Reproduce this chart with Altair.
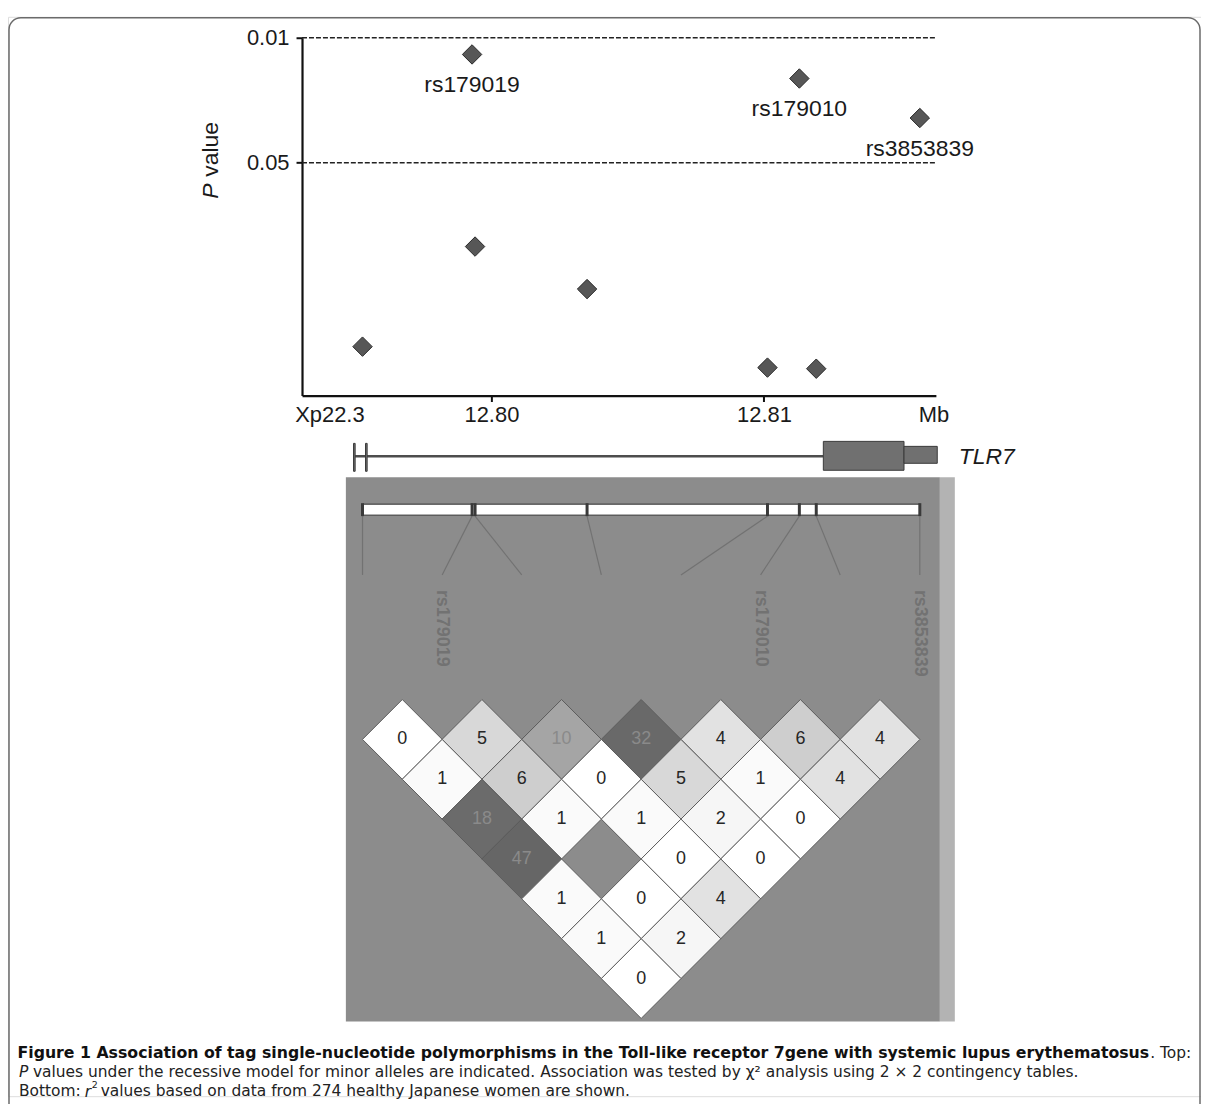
import altair as alt
import pandas as pd

# ------------------------------------------------------------------ data
snp_pos_mb = [12.79527, 12.79929, 12.79940, 12.80351, 12.81013, 12.81130, 12.81192, 12.81572]
snp_pvalue = [0.533, 0.0124, 0.147, 0.254, 0.698, 0.0169, 0.708, 0.0281]
snp_name = ["", "rs179019", "", "", "", "rs179010", "", "rs3853839"]

threshold_p = [0.01, 0.05]
x_tick_mb = [12.80, 12.81]
y_tick_p = [0.01, 0.05]
x_domain_mb = [12.79305, 12.81631]
p_domain = [0.01, 1]

exon_start_mb = [12.79494, 12.79538, 12.81218, 12.81514]
exon_end_mb = [12.79500, 12.79544, 12.81514, 12.81636]
exon_part = ["small", "small", "cds", "utr"]
gene_span_mb = [12.79494, 12.81218]
gene_name = "TLR7"

# r2 (x100) between SNP i and SNP i+d, one list per distance d = 1..7
r2_by_distance = [
    [0, 5, 10, 32, 4, 6, 4],
    [1, 6, 0, 5, 1, 4],
    [18, 1, 1, 2, 0],
    [47, None, 0, 0],
    [1, 0, 4],
    [1, 2],
    [0],
]
r2_color_stops = [0, 2, 4, 6, 10, 18, 47]
r2_colors = ["#ffffff", "#f6f6f6", "#e2e2e2", "#cecece", "#a5a5a5", "#6b6b6b", "#666666"]

caption_bold = ("Figure 1 Association of tag single-nucleotide polymorphisms in the "
                "Toll-like receptor 7gene with systemic lupus erythematosus")
caption_after_bold = ". Top:"
caption_l2 = ("values under the recessive model for minor alleles are indicated. "
              "Association was tested by \u03c7\u00b2 analysis using 2 \u00d7 2 contingency tables.")
caption_l3a = "Bottom:"
caption_l3b = "values based on data from 274 healthy Japanese women are shown."

# ------------------------------------------------------------------ layout
W, H = 1197, 1083
FONT = "Liberation Sans"
CAP = "DejaVu Sans"

xs = alt.Scale(domain=x_domain_mb, range=[295, 931], zero=False, nice=False)
ys = alt.Scale(type="log", domain=p_domain, range=[21, 380], nice=False)

one = pd.DataFrame({"a": [0]})

# ------------------------------------------------------------------ top panel
snps = pd.DataFrame({"mb": snp_pos_mb, "p": snp_pvalue, "name": snp_name})

x_axis = alt.Axis(values=x_tick_mb, format=".2f", offset=-(H - 380), title=None,
                  grid=False, tickSize=6, tickWidth=2, tickColor="#111",
                  domainColor="#111", domainWidth=2.2, labelFont=FONT,
                  labelFontSize=22, labelColor="#1a1a1a", labelPadding=3)
y_axis = alt.Axis(values=y_tick_p, format=".2f", offset=-295, title=None,
                  grid=False, tickSize=6, tickWidth=2, tickColor="#111",
                  domainColor="#111", domainWidth=2.2, labelFont=FONT,
                  labelFontSize=22, labelColor="#1a1a1a", labelPadding=7)

thr = pd.DataFrame({"p": threshold_p, "x0": x_domain_mb[0], "x1": x_domain_mb[1]})
rules = alt.Chart(thr).mark_rule(strokeDash=[5, 2], strokeWidth=1.6, color="#222").encode(
    x=alt.X("x0:Q", scale=xs, title=None), x2="x1:Q",
    y=alt.Y("p:Q", scale=ys, title=None))

pts = alt.Chart(snps).mark_point(shape="diamond", filled=True, size=380, opacity=1,
                                 color="#575757", stroke="#2a2a2a", strokeWidth=1).encode(
    x=alt.X("mb:Q", scale=xs, axis=x_axis),
    y=alt.Y("p:Q", scale=ys, axis=y_axis))

labs = alt.Chart(snps).mark_text(dy=31, fontSize=23, font=FONT, color="#1a1a1a").encode(
    x=alt.X("mb:Q", scale=xs, title=None),
    y=alt.Y("p:Q", scale=ys, title=None),
    text="name:N")

top = alt.layer(rules, pts, labs)

# ------------------------------------------------------------------ gene track
gene_df = pd.DataFrame({"s": [gene_span_mb[0]], "e": [gene_span_mb[1]]})
gene_line = alt.Chart(gene_df).mark_rule(strokeWidth=2.5, color="#4d4d4d").encode(
    x=alt.X("s:Q", scale=xs, axis=None), x2="e:Q", y=alt.value(441))

exons = pd.DataFrame({"s": exon_start_mb, "e": exon_end_mb, "part": exon_part})
exon_y = {"small": (428, 456), "cds": (426, 455), "utr": (431, 448)}
exon_layers = []
for part, (y0, y1) in exon_y.items():
    exon_layers.append(
        alt.Chart(exons).transform_filter(alt.datum.part == part)
        .mark_rect(color="#707070", stroke="#3a3a3a", strokeWidth=1)
        .encode(x=alt.X("s:Q", scale=xs, axis=None), x2="e:Q",
                y=alt.value(y0), y2=alt.value(y1)))

gene_label = alt.Chart(pd.DataFrame({"g": [gene_name]})).mark_text(
    align="left", baseline="middle", fontStyle="italic", fontSize=23, font=FONT,
    color="#1a1a1a").encode(text="g:N", x=alt.value(954), y=alt.value(442))

gene = alt.layer(gene_line, *exon_layers, gene_label)

# ------------------------------------------------------------------ LD plot
n = len(snp_pos_mb)
pos1, posn = snp_pos_mb[0], snp_pos_mb[-1]
step = (posn - pos1) / (n - 1)
col_mb = [pos1 + k * step for k in range(n)]

cells = []
for d, row in enumerate(r2_by_distance, start=1):
    for i, v in enumerate(row):
        cells.append({"cx": pos1 + (i + (i + d)) / 2 * step, "depth": d, "r2": v,
                      "txt": "" if v is None else str(v)})
cells_df = pd.DataFrame(cells)

ld_bg = alt.Chart(one).mark_rect(color="#8c8c8c").encode(
    x=alt.value(339), x2=alt.value(935), y=alt.value(462), y2=alt.value(1008))
ld_band = alt.Chart(one).mark_rect(color="#b3b3b3").encode(
    x=alt.value(935), x2=alt.value(950), y=alt.value(462), y2=alt.value(1008))

bar_df = pd.DataFrame({"s": [pos1], "e": [posn]})
bar = alt.Chart(bar_df).mark_rect(fill="white", stroke="#2d2d2d", strokeWidth=1).encode(
    x=alt.X("s:Q", scale=xs, axis=None), x2="e:Q", y=alt.value(489), y2=alt.value(500))

snp_cols = pd.DataFrame({"mb": snp_pos_mb, "col": col_mb, "name": snp_name})
bar_ticks = alt.Chart(snp_cols).mark_rule(strokeWidth=3, color="#3a3a3a").encode(
    x=alt.X("mb:Q", scale=xs, axis=None), y=alt.value(488), y2=alt.value(501))
connectors = alt.Chart(snp_cols).mark_rule(strokeWidth=1.2, color="#727272").encode(
    x=alt.X("mb:Q", scale=xs, axis=None), x2="col:Q", y=alt.value(501), y2=alt.value(560))
snp_names = alt.Chart(snp_cols).mark_text(angle=90, align="left", baseline="middle",
                                          fontSize=18, fontWeight="bold", font=FONT,
                                          color="#727272").encode(
    x=alt.X("col:Q", scale=xs, axis=None), y=alt.value(575), text="name:N")

depth_scale = alt.Scale(domain=[1, 7], range=[725, 965], zero=False, nice=False)
diamonds = alt.Chart(cells_df).mark_point(shape="diamond", filled=True, size=6400, opacity=1,
                                          stroke="#5c5c5c", strokeWidth=1).encode(
    x=alt.X("cx:Q", scale=xs, axis=None),
    y=alt.Y("depth:Q", scale=depth_scale, axis=None),
    color=alt.condition("datum.r2 === null", alt.value("#5a5a5a"),
                        alt.Color("r2:Q", scale=alt.Scale(domain=r2_color_stops, range=r2_colors),
                                  legend=None)))
cell_text = alt.Chart(cells_df).mark_text(fontSize=18, font=FONT).encode(
    x=alt.X("cx:Q", scale=xs, axis=None),
    y=alt.Y("depth:Q", scale=depth_scale, axis=None),
    text="txt:N",
    color=alt.condition("datum.r2 >= 10", alt.value("#8a8a8a"), alt.value("#262626")))

ld = alt.layer(ld_bg, ld_band, connectors, bar, bar_ticks, snp_names, diamonds, cell_text)

# ------------------------------------------------------------------ annotations
def txt(s, x, y, **kw):
    props = dict(font=FONT, fontSize=22, color="#1a1a1a", baseline="middle")
    props.update(kw)
    return alt.Chart(pd.DataFrame({"t": [s]})).mark_text(**props).encode(
        text="t:N", x=alt.value(x), y=alt.value(y))

CS = 15.5
ann = alt.layer(
    txt("Xp22.3", 323, 400),
    txt("Mb", 929, 400),
    txt("P", 204, 175, angle=270, fontStyle="italic", fontSize=23),
    txt("value", 204, 133, angle=270, fontSize=23),
    txt(caption_bold, 1145, 1040, font=CAP, fontSize=15.8, fontWeight="bold", align="right", color="#111"),
    txt(caption_after_bold, 1146, 1040, font=CAP, fontSize=CS, align="left", color="#222"),
    txt("P", 11, 1059, font=CAP, fontSize=CS, fontStyle="italic", align="left", color="#222"),
    txt(caption_l2, 25, 1059, font=CAP, fontSize=CS, align="left", color="#222"),
    txt(caption_l3a, 11, 1078, font=CAP, fontSize=CS, align="left", color="#222"),
    txt("r", 77, 1079, font=CAP, fontSize=CS, fontStyle="italic", align="left", color="#222"),
    txt("2", 84, 1072, font=CAP, fontSize=9.5, align="left", color="#222"),
    txt(caption_l3b, 93, 1078, font=CAP, fontSize=CS, align="left", color="#222"),
)

frame = alt.Chart(one).mark_rect(fillOpacity=0, stroke="#6b6b6b", strokeWidth=1.5,
                                 cornerRadius=12).encode(
    x=alt.value(1), x2=alt.value(W - 1), y=alt.value(1), y2=alt.value(H + 60))

chart = alt.layer(frame, top, gene, ld, ann).resolve_scale(
    x="independent", y="independent", color="independent"
).properties(
    width=W, height=H,
    padding={"left": 0, "top": 7, "right": 0, "bottom": 6},
    autosize=alt.AutoSizeParams(type="none"),
).configure_view(stroke="transparent").configure(background="white")

chart.save("out.html", embed_options={"renderer": "svg", "actions": False})
